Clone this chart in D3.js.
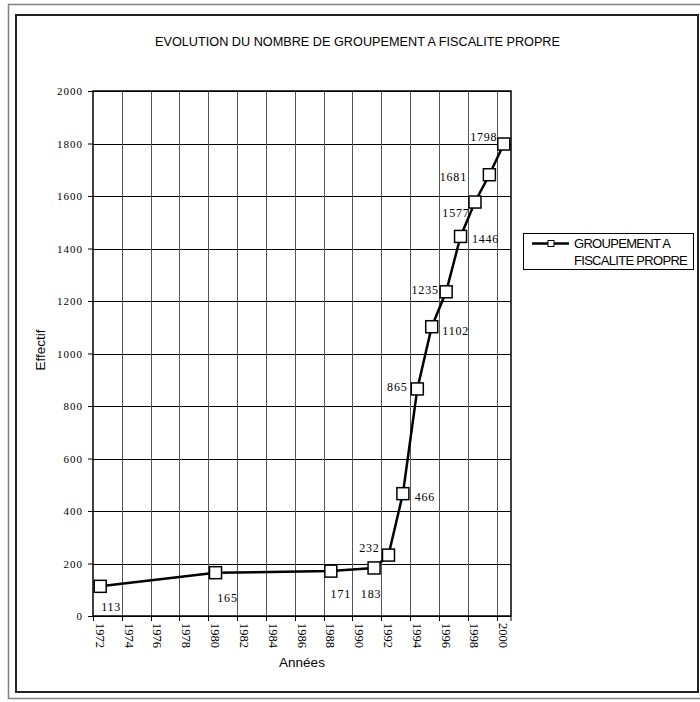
<!DOCTYPE html>
<html>
<head>
<meta charset="utf-8">
<script src="https://cdn.jsdelivr.net/npm/d3@7"></script>
<style>
    body { margin: 0; background: #fff; }
    svg { display: block; }
    .serif { font-family: "Liberation Serif", "Times New Roman", "DejaVu Serif", serif; }
    .sans { font-family: "Liberation Sans", Arial, sans-serif; }
</style>
</head>
<body>
<svg id="chart"></svg>
<script>
// Data
var allYears = d3.range(1972, 2001);
var years = [1972, 1980, 1988, 1991, 1992, 1993, 1994, 1995, 1996, 1997, 1998, 1999, 2000];
var effectifs = [113, 165, 171, 183, 232, 466, 865, 1102, 1235, 1446, 1577, 1681, 1798];
var yTicks = [0, 200, 400, 600, 800, 1000, 1200, 1400, 1600, 1800, 2000];
var xTickYears = d3.range(1972, 2001, 2);

// Label placement for each point (dx, dy from the marker)
var labelOffsets = [
    [11, 21], [12, 25], [10, 23], [-3, 26], [-19, -7], [22, 3],
    [-20, -2], [24, 4], [-21, -2], [25, 3], [-19, 11], [-36, 2], [-20, -7]
];

var width = 700,
    height = 702;

var svg = d3.select("#chart")
    .attr("width", width)
    .attr("height", height);

// Outer frames
svg.append("rect")
    .attr("x", 8.5).attr("y", 4.5)
    .attr("width", 700).attr("height", 694)
    .attr("fill", "none")
    .attr("stroke", "#808080")
    .attr("stroke-width", 1.5);

svg.append("rect")
    .attr("x", 16).attr("y", 15)
    .attr("width", 682).attr("height", 677)
    .attr("fill", "none")
    .attr("stroke", "#222")
    .attr("stroke-width", 2);

// Plot area
var plotLeft = 93, plotRight = 511, plotTop = 91, plotBottom = 616;

var x = d3.scaleBand()
    .domain(allYears)
    .range([plotLeft, plotRight]);

var y = d3.scaleLinear()
    .domain([0, 2000])
    .range([plotBottom, plotTop]);

function xc(yr) {
    return x(yr) + x.bandwidth() / 2;
}

// Title
svg.append("text")
    .attr("class", "sans")
    .attr("x", 155)
    .attr("y", 46)
    .attr("textLength", 405)
    .attr("lengthAdjust", "spacingAndGlyphs")
    .style("font-size", "12.5px")
    .text("EVOLUTION DU NOMBRE DE GROUPEMENT A FISCALITE PROPRE");

// Horizontal gridlines
svg.append("g").selectAll("line")
    .data(yTicks)
    .enter().append("line")
    .attr("x1", plotLeft).attr("x2", plotRight)
    .attr("y1", function (d) { return Math.round(y(d)) + 0.5; })
    .attr("y2", function (d) { return Math.round(y(d)) + 0.5; })
    .attr("stroke", "#000")
    .attr("stroke-width", 1);

// Vertical gridlines at every second category boundary
svg.append("g").selectAll("line")
    .data(xTickYears.slice(1))
    .enter().append("line")
    .attr("x1", function (d) { return Math.round(x(d)) + 0.5; })
    .attr("x2", function (d) { return Math.round(x(d)) + 0.5; })
    .attr("y1", plotTop).attr("y2", plotBottom)
    .attr("stroke", "#555")
    .attr("stroke-width", 1);

// Plot border
svg.append("rect")
    .attr("x", plotLeft).attr("y", plotTop)
    .attr("width", plotRight - plotLeft).attr("height", plotBottom - plotTop)
    .attr("fill", "none")
    .attr("stroke", "#000")
    .attr("stroke-width", 1.5);

// Y axis
var yAxis = d3.axisLeft(y)
    .tickValues(yTicks)
    .tickFormat(d3.format("d"))
    .tickSize(5)
    .tickPadding(5);

var gy = svg.append("g")
    .attr("transform", "translate(" + plotLeft + ",0)")
    .call(yAxis);
gy.attr("font-family", null).attr("font-size", null);
gy.select(".domain").remove();
gy.selectAll("line").attr("stroke", "#000");
gy.selectAll("text")
    .attr("class", "serif")
    .style("font-size", "11px")
    .style("letter-spacing", "1px")
    .attr("fill", "#000");

// X ticks at category boundaries
svg.append("g").selectAll("line")
    .data(xTickYears.concat([2001]))
    .enter().append("line")
    .attr("x1", function (d) { return d > 2000 ? plotRight : Math.round(x(d)) + 0.5; })
    .attr("x2", function (d) { return d > 2000 ? plotRight : Math.round(x(d)) + 0.5; })
    .attr("y1", plotBottom).attr("y2", plotBottom + 5)
    .attr("stroke", "#000");

// X tick labels, rotated
svg.append("g").selectAll("text")
    .data(xTickYears)
    .enter().append("text")
    .attr("class", "serif")
    .attr("transform", function (d) {
        return "translate(" + (xc(d) - 4.5) + "," + (plotBottom + 7) + ") rotate(90)";
    })
    .style("font-size", "12.5px")
    .text(function (d) { return d; });

// Axis titles
svg.append("text")
    .attr("class", "sans")
    .attr("x", 302)
    .attr("y", 667)
    .attr("text-anchor", "middle")
    .style("font-size", "13.5px")
    .text("Années");

svg.append("text")
    .attr("class", "sans")
    .attr("transform", "translate(45,350) rotate(-90)")
    .attr("text-anchor", "middle")
    .style("font-size", "13.5px")
    .text("Effectif");

// Series
var points = years.map(function (yr, i) {
    return {year: yr, value: effectifs[i], off: labelOffsets[i]};
});

var line = d3.line()
    .x(function (d) { return xc(d.year); })
    .y(function (d) { return y(d.value); });

svg.append("path")
    .datum(points)
    .attr("d", line)
    .attr("fill", "none")
    .attr("stroke", "#000")
    .attr("stroke-width", 2.5);

svg.append("g").selectAll("rect")
    .data(points)
    .enter().append("rect")
    .attr("x", function (d) { return xc(d.year) - 6; })
    .attr("y", function (d) { return y(d.value) - 6; })
    .attr("width", 12).attr("height", 12)
    .attr("fill", "#fff")
    .attr("stroke", "#000")
    .attr("stroke-width", 1.5);

// Data labels
svg.append("g").selectAll("text")
    .data(points)
    .enter().append("text")
    .attr("class", "serif")
    .attr("x", function (d) { return xc(d.year) + d.off[0]; })
    .attr("y", function (d) { return y(d.value) + d.off[1] + 4; })
    .attr("text-anchor", "middle")
    .style("font-size", "12px")
    .style("letter-spacing", "0.8px")
    .text(function (d) { return d.value; });

// Legend
var legend = svg.append("g");
legend.append("rect")
    .attr("x", 523.5).attr("y", 233.5)
    .attr("width", 170).attr("height", 36)
    .attr("fill", "#fff")
    .attr("stroke", "#000");
legend.append("line")
    .attr("x1", 532).attr("x2", 569)
    .attr("y1", 243.5).attr("y2", 243.5)
    .attr("stroke", "#000")
    .attr("stroke-width", 2.5);
legend.append("rect")
    .attr("x", 548).attr("y", 240.5)
    .attr("width", 6).attr("height", 6)
    .attr("fill", "#fff")
    .attr("stroke", "#000");
legend.append("text")
    .attr("class", "sans")
    .attr("x", 574).attr("y", 248)
    .style("font-size", "13px")
    .style("letter-spacing", "-0.7px")
    .text("GROUPEMENT A");
legend.append("text")
    .attr("class", "sans")
    .attr("x", 574).attr("y", 265)
    .style("font-size", "13px")
    .style("letter-spacing", "-0.7px")
    .text("FISCALITE PROPRE");
</script>
</body>
</html>
